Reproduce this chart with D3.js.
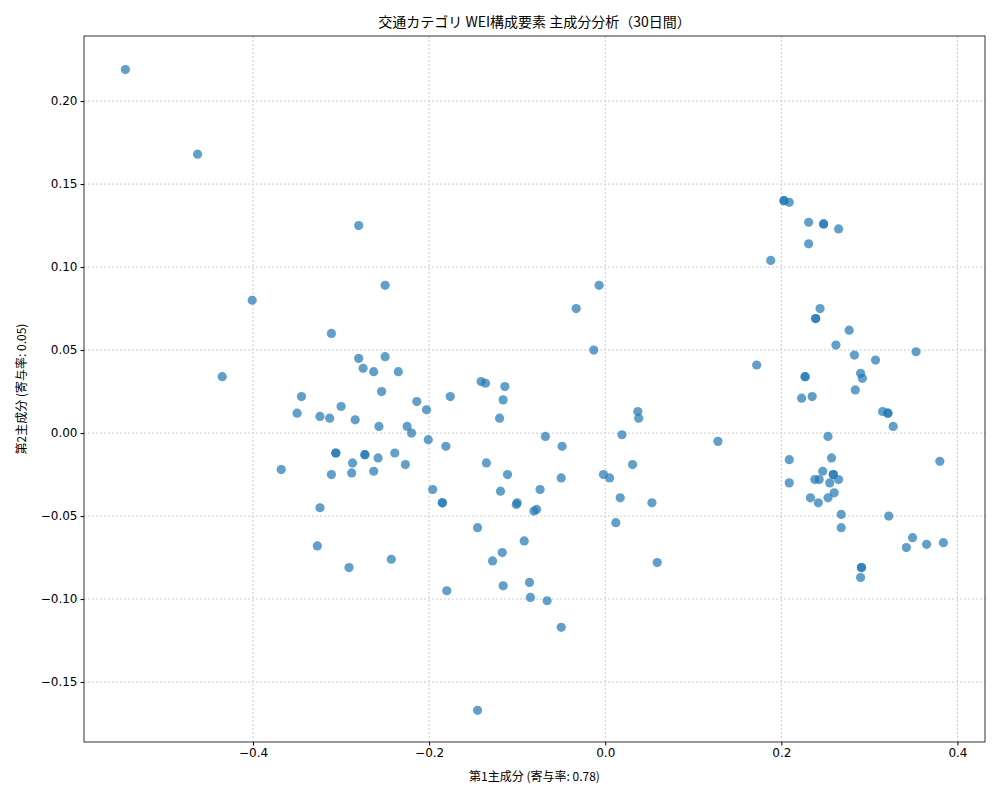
<!DOCTYPE html>
<html><head><meta charset="utf-8">
<script src="https://cdn.jsdelivr.net/npm/d3@7"></script>
<style>body{margin:0;background:#fff;font-family:"Noto Sans CJK JP","DejaVu Sans",sans-serif;}</style>
</head><body><svg id="c" width="1000" height="800"></svg>
<script>
const pc1 = [-0.545,-0.463,-0.280,-0.401,-0.435,-0.250,-0.311,-0.280,-0.250,-0.275,-0.263,-0.235,-0.345,-0.254,-0.300,-0.350,-0.324,-0.313,-0.284,-0.214,-0.203,-0.257,-0.225,-0.220,-0.201,-0.176,-0.306,-0.306,-0.273,-0.273,-0.239,-0.287,-0.258,-0.227,-0.368,-0.311,-0.288,-0.263,-0.181,-0.196,-0.185,-0.185,-0.324,-0.135,-0.141,-0.136,-0.114,-0.116,-0.120,-0.111,-0.119,-0.100,-0.101,-0.145,-0.327,-0.291,-0.243,-0.128,-0.117,-0.180,-0.116,-0.145,-0.068,-0.049,-0.050,-0.074,-0.078,-0.081,-0.092,-0.086,-0.085,-0.066,-0.050,-0.033,-0.007,-0.013,0.037,0.038,0.019,-0.002,0.005,0.031,0.017,0.012,0.053,0.059,0.128,
0.203,0.203,0.209,0.231,0.248,0.248,0.265,0.231,0.188,0.244,0.239,0.239,0.277,0.262,0.283,0.307,0.353,0.172,0.227,0.227,0.290,0.292,0.284,0.223,0.235,0.315,0.321,0.321,0.327,0.253,0.209,0.257,0.380,0.247,0.259,0.259,0.238,0.243,0.255,0.265,0.209,0.260,0.233,0.253,0.242,0.268,0.322,0.268,0.349,0.342,0.365,0.384,0.291,0.291,0.290];
const pc2 = [0.219,0.168,0.125,0.080,0.034,0.089,0.060,0.045,0.046,0.039,0.037,0.037,0.022,0.025,0.016,0.012,0.010,0.009,0.008,0.019,0.014,0.004,0.004,0.000,-0.004,0.022,-0.012,-0.012,-0.013,-0.013,-0.012,-0.018,-0.015,-0.019,-0.022,-0.025,-0.024,-0.023,-0.008,-0.034,-0.042,-0.042,-0.045,-0.018,0.031,0.030,0.028,0.020,0.009,-0.025,-0.035,-0.042,-0.043,-0.057,-0.068,-0.081,-0.076,-0.077,-0.072,-0.095,-0.092,-0.167,-0.002,-0.008,-0.027,-0.034,-0.046,-0.047,-0.065,-0.090,-0.099,-0.101,-0.117,0.075,0.089,0.050,0.013,0.009,-0.001,-0.025,-0.027,-0.019,-0.039,-0.054,-0.042,-0.078,-0.005,
0.140,0.140,0.139,0.127,0.126,0.126,0.123,0.114,0.104,0.075,0.069,0.069,0.062,0.053,0.047,0.044,0.049,0.041,0.034,0.034,0.036,0.033,0.026,0.021,0.022,0.013,0.012,0.012,0.004,-0.002,-0.016,-0.015,-0.017,-0.023,-0.025,-0.025,-0.028,-0.028,-0.030,-0.028,-0.030,-0.036,-0.039,-0.039,-0.042,-0.049,-0.050,-0.057,-0.063,-0.069,-0.067,-0.066,-0.081,-0.081,-0.087];
const xTicks = [-0.4,-0.2,0.0,0.2,0.4];
const yTicks = [-0.15,-0.10,-0.05,0.00,0.05,0.10,0.15,0.20];
const title = "交通カテゴリ WEI構成要素 主成分分析（30日間）";
const xLabel = "第1主成分 (寄与率: 0.78)";
const yLabel = "第2主成分 (寄与率: 0.05)";

const svg = d3.select("#c");
const L=84,R=985,T=36,B=742;
const x = d3.scaleLinear().domain([-0.592,0.4313]).range([L,R]);
const y = d3.scaleLinear().domain([0.2392,-0.1861]).range([T,B]);
const fmt = d => (d<0?"−":"")+Math.abs(d).toFixed(d===0||Math.abs(d*10)%1===0&&yTicks.indexOf(d)<0?1:2);
const g = svg.append("g");
g.selectAll(".gx").data(xTicks).enter().append("line").attr("x1",d=>x(d)).attr("x2",d=>x(d)).attr("y1",T).attr("y2",B).attr("stroke","#ccc").attr("stroke-dasharray","2,2");
g.selectAll(".gy").data(yTicks).enter().append("line").attr("y1",d=>y(d)).attr("y2",d=>y(d)).attr("x1",L).attr("x2",R).attr("stroke","#ccc").attr("stroke-dasharray","2,2");
svg.append("g").selectAll("circle").data(pc1.map((v,i)=>[v,pc2[i]])).enter().append("circle")
 .attr("cx",d=>x(d[0])).attr("cy",d=>y(d[1])).attr("r",4.6).attr("fill","#1f77b4").attr("fill-opacity",0.7);
const xa = svg.append("g").attr("transform",`translate(0,${B})`).call(d3.axisBottom(x).tickValues(xTicks).tickSize(3.5).tickFormat(d=>(d<0?"−":"")+Math.abs(d).toFixed(1)));
const ya = svg.append("g").attr("transform",`translate(${L},0)`).call(d3.axisLeft(y).tickValues(yTicks).tickSize(3.5).tickFormat(d=>(d<0?"−":"")+Math.abs(d).toFixed(2)));
[xa,ya].forEach(a=>{a.select(".domain").remove();a.selectAll("text").attr("font-size",12).attr("fill","#000").style("font-family","'DejaVu Sans',sans-serif");a.selectAll("line").attr("stroke","#000");});
svg.append("rect").attr("x",L).attr("y",T).attr("width",R-L).attr("height",B-T).attr("fill","none").attr("stroke","#000").attr("stroke-width",0.8);
svg.append("text").attr("x",(L+R)/2).attr("y",27).attr("text-anchor","middle").attr("font-size",14).text(title);
svg.append("text").attr("x",(L+R)/2).attr("y",781).attr("text-anchor","middle").attr("font-size",12).text(xLabel);
svg.append("text").attr("transform",`translate(26,${(T+B)/2}) rotate(-90)`).attr("text-anchor","middle").attr("font-size",12).text(yLabel);
</script></body></html>
